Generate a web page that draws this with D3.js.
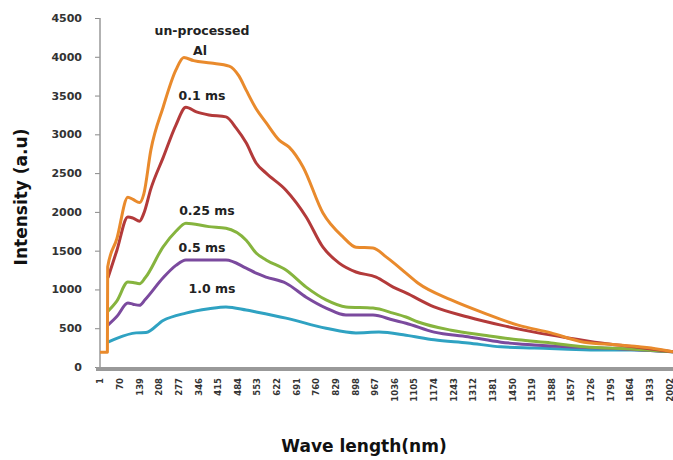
<!DOCTYPE html>
<html>
<head>
<meta charset="utf-8">
<script src="https://cdn.jsdelivr.net/npm/d3@7"></script>
<style>
  html, body { margin: 0; padding: 0; background: #fff; }
  svg { display: block; }
  .tick text { font-family: "DejaVu Sans", sans-serif; font-weight: bold; fill: #333; }
  .note { font-family: "DejaVu Sans", sans-serif; font-weight: bold; font-size: 12.5px; fill: #222; }
  .title { font-family: "DejaVu Sans", sans-serif; font-weight: bold; font-size: 17px; fill: #111; }
</style>
</head>
<body>
<div id="chart"></div>
<script>
// --- data: [category index, intensity] ---
const yTicks = [0, 500, 1000, 1500, 2000, 2500, 3000, 3500, 4000, 4500];
const xTicks = [1, 70, 139, 208, 277, 346, 415, 484, 553, 622, 691, 760, 829, 898, 967,
  1036, 1105, 1174, 1243, 1312, 1381, 1450, 1519, 1588, 1657, 1726, 1795, 1864, 1933, 2002];

const unprocessed = [[1,190],[14,190],[27,190],[28,1290],[60,1650],[99,2190],[117,2160],[140,2120],[155,2230],
  [180,2800],[223,3350],[268,3830],[296,3990],[330,3950],[391,3920],[455,3880],[490,3750],[515,3570],
  [550,3330],[585,3150],[631,2925],[666,2835],[715,2580],[785,1985],[856,1675],[901,1545],[961,1535],
  [1007,1420],[1035,1340],[1077,1210],[1120,1080],[1236,865],[1352,695],[1471,540],[1587,440],
  [1703,320],[1823,285],[1939,245],[2016,195]];

const ms01 = [[29,1150],[60,1500],[99,1935],[117,1920],[140,1880],[155,1980],[180,2300],[223,2700],
  [268,3120],[303,3350],[340,3290],[384,3250],[444,3225],[480,3080],[515,2890],[550,2630],[585,2500],
  [655,2280],[726,1935],[785,1545],[842,1340],[901,1225],[972,1160],[1032,1030],[1077,955],
  [1176,775],[1295,645],[1411,540],[1528,450],[1647,375],[1763,310],[1879,260],[2016,195]];

const ms025 = [[29,720],[60,850],[99,1095],[117,1090],[140,1075],[160,1150],[223,1550],[268,1750],
  [303,1855],[384,1810],[444,1790],[515,1635],[550,1470],[585,1380],[655,1250],[726,1030],[796,865],
  [866,775],[961,760],[1032,695],[1077,645],[1120,580],[1236,475],[1352,410],[1471,350],[1587,310],
  [1703,260],[1879,230],[2016,195]];

const ms05 = [[29,540],[60,650],[99,825],[117,810],[140,795],[160,870],[223,1150],[268,1310],
  [303,1380],[384,1380],[444,1380],[515,1275],[550,1210],[585,1160],[655,1080],[726,900],[796,760],
  [866,670],[961,670],[1032,605],[1077,565],[1176,450],[1295,390],[1411,320],[1528,285],[1647,260],
  [1763,245],[2016,195]];

const ms10 = [[29,320],[60,370],[128,440],[163,445],[223,600],[303,695],[384,750],[444,775],
  [515,735],[550,710],[655,630],[796,500],[901,440],[982,450],[1077,410],[1176,350],[1295,310],
  [1411,260],[1528,245],[1647,230],[1763,220],[1879,220],[2016,195]];

const seriesNames = ["1.0 ms", "0.5 ms", "0.25 ms", "0.1 ms", "un-processed Al"];
const seriesData = [ms10, ms05, ms025, ms01, unprocessed];
const seriesColors = ["#2fa2c2", "#7b4a9e", "#86b43e", "#b33a3a", "#e98a2c"];

// --- chart ---
const W = 673, H = 460;
const svg = d3.select("#chart").append("svg").attr("width", W).attr("height", H);

const x = d3.scaleLinear().domain([1, 2016]).range([100, 673]);
const y = d3.scaleLinear().domain([0, 4500]).range([367, 18]);

// y axis
const yAxis = svg.append("g")
  .attr("transform", "translate(100,0)")
  .call(d3.axisLeft(y).tickValues(yTicks).tickSize(5).tickPadding(13).tickFormat(d3.format("d")));
yAxis.select(".domain").remove();
yAxis.selectAll(".tick line").attr("stroke", "#888");
yAxis.selectAll(".tick text").style("font-size", "11px");
svg.append("line")
  .attr("x1", 100).attr("x2", 100).attr("y1", y(4500)).attr("y2", y(0))
  .attr("stroke", "#999").attr("stroke-width", 1.5);

// x axis
const xAxis = svg.append("g")
  .attr("transform", "translate(0,369)")
  .call(d3.axisBottom(x).tickValues(xTicks).tickSize(0).tickFormat(d3.format("d")));
xAxis.select(".domain").remove();
xAxis.selectAll(".tick text")
  .style("font-size", "8.5px")
  .attr("text-anchor", "end")
  .attr("transform", "rotate(-90)")
  .attr("x", -9).attr("y", 0).attr("dy", "0.35em");
svg.append("line")
  .attr("x1", 96).attr("x2", W).attr("y1", 369).attr("y2", 369)
  .attr("stroke", "#999").attr("stroke-width", 4);

// lines
const line = d3.line().x(d => x(d[0])).y(d => y(d[1])).curve(d3.curveMonotoneX);
svg.selectAll(".series")
  .data(seriesData)
  .enter().append("path")
  .attr("class", "series")
  .attr("fill", "none")
  .attr("stroke", (d, i) => seriesColors[i])
  .attr("stroke-width", 3)
  .attr("stroke-linejoin", "round")
  .attr("d", line);

// labels on the curves
const notes = [
  { text: "un-processed", cx: 202, cy: 35 },
  { text: "Al", cx: 200, cy: 55 },
  { text: "0.1 ms", cx: 202, cy: 100 },
  { text: "0.25 ms", cx: 207, cy: 215 },
  { text: "0.5 ms", cx: 202, cy: 252 },
  { text: "1.0 ms", cx: 212, cy: 293 }
];
svg.selectAll(".note")
  .data(notes)
  .enter().append("text")
  .attr("class", "note")
  .attr("x", d => d.cx).attr("y", d => d.cy)
  .attr("text-anchor", "middle")
  .text(d => d.text);

// axis titles
svg.append("text").attr("class", "title")
  .attr("text-anchor", "middle")
  .attr("transform", "translate(27,197) rotate(-90)")
  .text("Intensity (a.u)");
svg.append("text").attr("class", "title")
  .attr("x", 364).attr("y", 452)
  .attr("text-anchor", "middle")
  .text("Wave length(nm)");
</script>
</body>
</html>
